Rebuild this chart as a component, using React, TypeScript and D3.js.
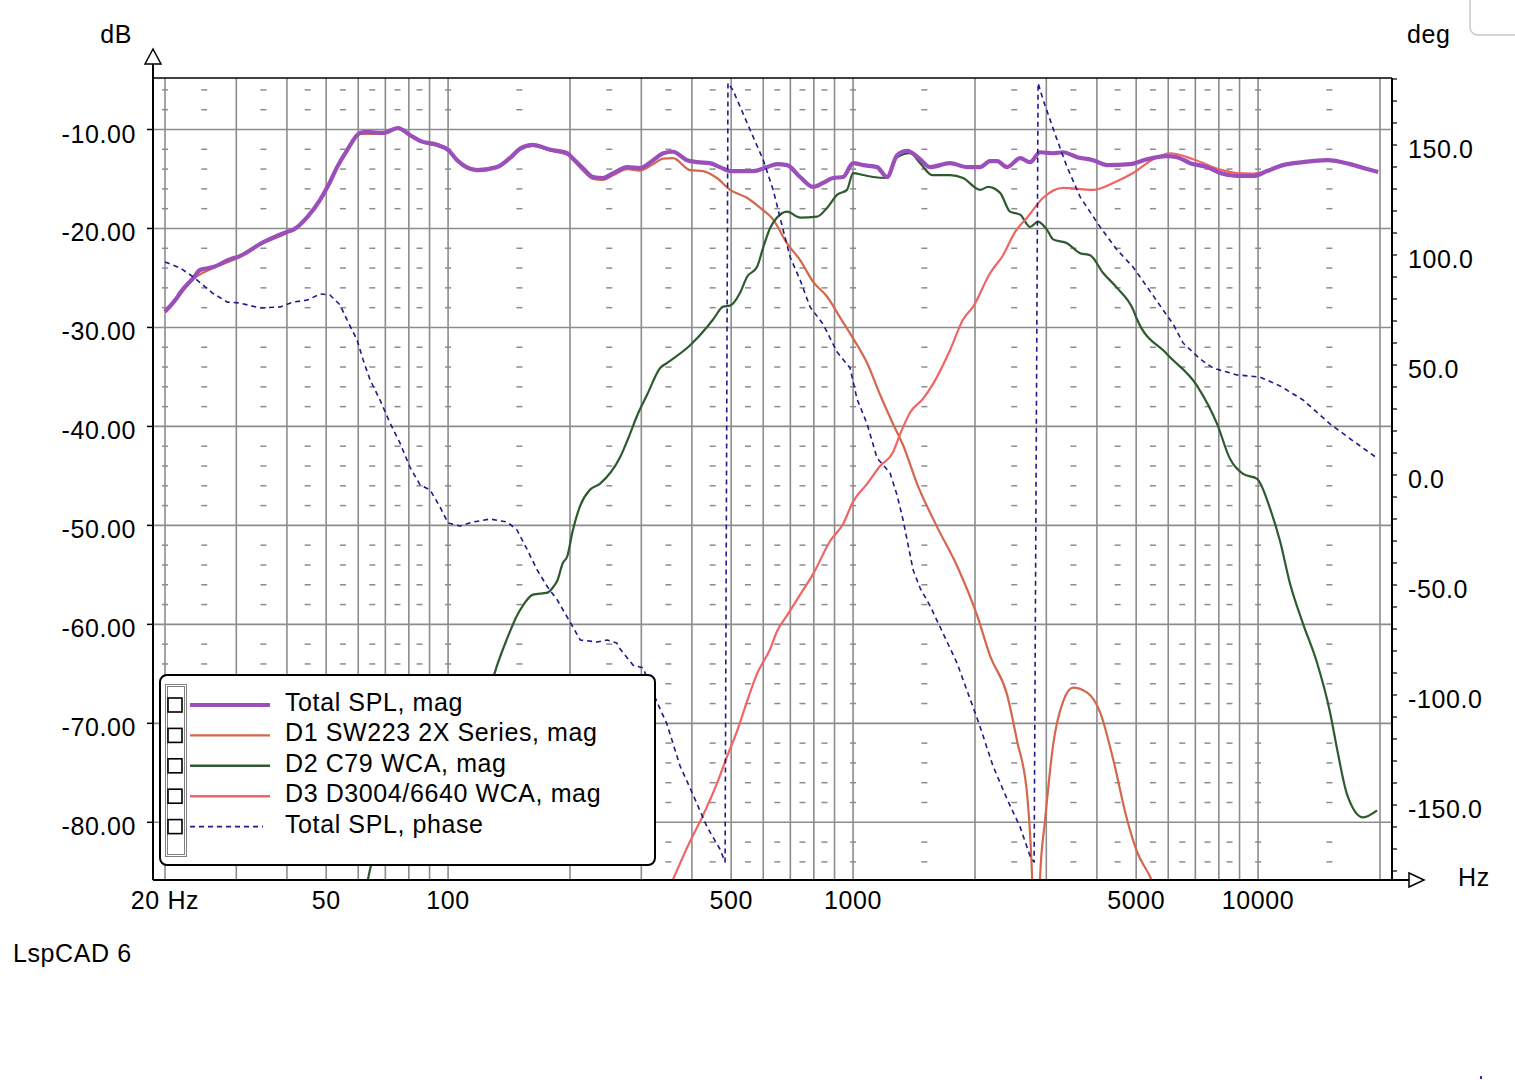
import React from 'react';
import * as d3 from 'd3';

// ---------- DATA ----------
const totalFreq = [20, 21.4, 21.8, 23.5, 24.4, 26.3, 29.4, 30.1, 34.9, 40, 41.4, 44.9, 48.3, 51.1, 53.2, 56.3, 60.6, 63.1, 69.1, 75.2, 80.5, 85.3, 93.9, 100, 105, 111, 118, 132, 142, 151, 162, 179, 197, 203, 215, 228, 241, 256, 277, 298, 321, 340, 359, 389, 412, 443, 469, 497, 566, 613, 649, 687, 740, 797, 843, 892, 945, 1000, 1059, 1146, 1213, 1284, 1359, 1464, 1549, 1735, 1912, 2059, 2180, 2267, 2400, 2585, 2735, 2896, 3118, 3300, 3574, 3914, 4240, 4831, 5321, 5962, 6310, 6793, 7482, 8057, 8874, 9720, 10525, 11527, 12915, 14806, 16874, 18586, 19785];
const totalDb = [-28.4, -27.0, -26.5, -25.0, -24.2, -23.9, -23.0, -22.9, -21.4, -20.35, -20.15, -18.85, -17.1, -15.3, -13.8, -12.1, -10.35, -10.25, -10.35, -9.85, -10.55, -11.15, -11.55, -12.05, -13.05, -13.8, -14.1, -13.8, -12.9, -11.9, -11.55, -12.05, -12.4, -12.9, -13.9, -14.8, -14.9, -14.4, -13.8, -13.9, -13.1, -12.4, -12.25, -13.1, -13.3, -13.4, -13.8, -14.2, -14.2, -13.8, -13.5, -13.6, -14.8, -15.8, -15.4, -14.9, -14.8, -13.4, -13.6, -13.8, -14.8, -12.6, -12.15, -13.0, -13.8, -13.4, -13.8, -13.8, -13.2, -13.2, -13.8, -12.9, -13.3, -12.3, -12.4, -12.3, -12.8, -13.1, -13.6, -13.5, -13.0, -12.7, -12.8, -13.4, -13.8, -14.4, -14.7, -14.7, -14.2, -13.6, -13.3, -13.1, -13.5, -14.0, -14.3];

const d1Freq = [20, 21.4, 23.5, 26.3, 30.1, 34.9, 40, 44.9, 48.3, 51.1, 53.2, 56.3, 60.6, 69.1, 75.2, 80.5, 85.3, 93.9, 100, 105, 111, 118, 132, 142, 151, 162, 179, 197, 203, 215, 228, 241, 256, 277, 298, 321, 340, 359, 396, 426, 461, 497, 547, 589, 635, 687, 740, 797, 863, 929, 1000, 1083, 1166, 1255, 1329, 1439, 1612, 1806, 2024, 2180, 2400, 2541, 2690, 2767, 2800, 2830, 2865, 2896, 2980, 3118, 3300, 3494, 3784, 4074, 4385, 4749, 5027, 5413, 5800];
const d1Db = [-28.5, -27.1, -25.1, -24.0, -23.0, -21.5, -20.45, -18.95, -17.2, -15.4, -13.9, -12.2, -10.45, -10.45, -9.95, -10.65, -11.25, -11.65, -12.15, -13.15, -13.9, -14.2, -13.9, -13.0, -12.0, -11.65, -12.15, -12.55, -13.05, -14.1, -15.0, -15.1, -14.6, -14.0, -14.15, -13.5, -12.95, -12.9, -14.1, -14.2, -14.9, -16.1, -16.9, -17.9, -19.1, -21.5, -23.2, -25.4, -26.9, -29.0, -31.1, -33.6, -36.8, -39.75, -41.9, -45.8, -50.15, -54.1, -59.1, -63.2, -67.1, -71.8, -77.2, -85.5, -92, -100, -92, -85.5, -79.75, -72.2, -67.8, -66.4, -66.9, -68.9, -73.6, -79.75, -83.0, -85.5, -88.5];

const d2Freq = [62.4, 64.9, 85.3, 107, 130.6, 132, 140, 148, 153, 162, 176, 182, 186, 192, 197, 203, 212, 224, 237, 266, 281, 293, 310, 334, 347, 396, 436, 451, 478, 497, 526, 547, 579, 600, 624, 649, 687, 740, 815, 863, 913, 966, 1000, 1059, 1121, 1213, 1284, 1383, 1464, 1567, 1735, 1869, 2059, 2154, 2307, 2441, 2585, 2735, 2863, 3013, 3118, 3376, 3636, 3848, 4144, 4486, 4914, 5027, 5962, 7070, 7921, 8530, 9183, 9943, 10706, 11332, 11995, 12915, 13989, 15058, 15671, 16590, 18168, 19672];
const d2Db = [-87.3, -84.0, -76.7, -70.7, -64.8, -64.2, -61.4, -59.1, -58.1, -57.0, -56.8, -56.2, -55.6, -53.8, -53.1, -50.6, -48.0, -46.4, -45.8, -43.1, -40.8, -38.9, -36.8, -34.1, -33.6, -31.8, -29.95, -29.2, -27.9, -27.8, -26.5, -24.9, -23.9, -21.9, -19.95, -18.9, -18.3, -18.9, -18.8, -17.9, -16.6, -16.1, -14.4, -14.6, -14.8, -14.9, -12.8, -12.4, -13.4, -14.6, -14.6, -14.9, -16.1, -15.8, -16.4, -18.3, -18.6, -19.85, -19.3, -20.15, -21.1, -21.5, -22.5, -22.7, -24.5, -26.0, -28.2, -29.2, -32.7, -35.9, -39.75, -43.3, -44.8, -45.3, -48.3, -51.6, -55.9, -59.95, -63.9, -68.9, -72.6, -77.2, -79.5, -78.8];

const d3Freq = [359, 396, 426, 461, 489, 517, 547, 579, 624, 649, 687, 740, 797, 877, 945, 1000, 1083, 1166, 1255, 1306, 1383, 1489, 1576, 1735, 1869, 1979, 2180, 2346, 2512, 2690, 2946, 3300, 3914, 4385, 4914, 5506, 6064, 6910, 8057, 8874, 9720, 10525, 11527, 12915, 14806, 16874, 19785];
const d3Db = [-85.8, -81.9, -79.3, -76.1, -73.3, -70.8, -67.8, -65.0, -62.5, -60.7, -59.1, -57.0, -54.9, -51.6, -49.85, -47.6, -45.8, -44.0, -42.6, -40.8, -38.6, -37.2, -35.7, -32.3, -29.2, -27.9, -24.5, -22.7, -20.35, -18.9, -16.9, -15.9, -16.1, -15.4, -14.4, -13.0, -12.4, -13.0, -14.05, -14.4, -14.45, -14.2, -13.6, -13.3, -13.1, -13.5, -14.3];

const phaseFreq = [20, 21.8, 23.5, 26.2, 28.5, 30.6, 34.3, 38.5, 41.4, 44.9, 48.3, 51.1, 54.1, 56.3, 59.6, 61.7, 64.2, 67.9, 71.9, 76.1, 80.5, 85.3, 90.3, 95.5, 100, 107, 115, 127, 140, 148, 157, 166, 176, 186, 200, 212, 233, 247, 261, 266, 286, 303, 328, 347, 374, 403, 436, 469, 483, 491, 505, 557, 600, 635, 672, 699, 740, 783, 843, 913, 983, 1023, 1083, 1146, 1234, 1284, 1329, 1407, 1464, 1549, 1640, 1806, 1945, 2059, 2216, 2400, 2585, 2735, 2799, 2863, 2946, 3190, 3376, 3636, 4074, 4486, 4914, 5321, 5828, 6169, 6529, 7192, 7743, 8874, 10114, 11332, 12915, 15058, 17164, 19672];
const phaseDeg = [96.8, 94.1, 90.0, 82.7, 78.6, 78.2, 75.9, 76.4, 78.6, 79.5, 82.3, 81.8, 77.3, 70.5, 61.4, 52.3, 43.2, 34.1, 23.6, 14.5, 3.6, -4.5, -6.8, -14.5, -21.8, -23.2, -21.4, -20.0, -21.4, -25.0, -34.1, -43.2, -50.9, -56.8, -66.8, -75.0, -75.9, -75.0, -76.4, -79.1, -86.4, -87.7, -103.2, -113.2, -132.3, -145.5, -160.0, -170.0, -175.9, 178.2, 175.0, 156.8, 143.2, 129.5, 111.4, 99.1, 88.6, 76.4, 68.6, 55.9, 48.6, 34.5, 23.2, 7.7, 0.9, -9.1, -20.5, -43.2, -51.4, -59.5, -69.1, -85.5, -101.8, -114.5, -132.3, -147.3, -160.0, -173.2, -175.9, 178.2, 170.5, 152.3, 140.0, 126.4, 112.7, 102.3, 94.5, 85.5, 75.0, 68.6, 60.0, 52.7, 48.6, 45.5, 44.5, 40.5, 34.1, 23.2, 15.5, 7.7];

// ticks & grid
const xTickValues = [20, 50, 100, 500, 1000, 5000, 10000];
const xTickLabels = ['20 Hz', '50', '100', '500', '1000', '5000', '10000'];
const gridFreqs = [20, 30, 40, 50, 60, 70, 80, 90, 100, 200, 300, 400, 500, 600, 700, 800, 900, 1000, 2000, 3000, 4000, 5000, 6000, 7000, 8000, 9000, 10000, 20000];
const minorFreqs = [20, 25, 35, 45, 55, 65, 75, 85, 100, 150, 250, 350, 450, 550, 650, 750, 850, 1000, 1500, 2500, 3500, 4500, 5500, 6500, 7500, 8500, 10000, 15000];
const dbTicks = [-10, -20, -30, -40, -50, -60, -70, -80];
const dbTickLabels = ['-10.00', '-20.00', '-30.00', '-40.00', '-50.00', '-60.00', '-70.00', '-80.00'];
const dbMinor = [-6, -8, -12, -14, -16, -18, -22, -24, -26, -28, -32, -34, -36, -38, -42, -44, -46, -48, -52, -54, -56, -58, -62, -64, -66, -68, -72, -74, -76, -78, -82, -84];
const degTicks = [150, 100, 50, 0, -50, -100, -150];
const degTickLabels = ['150.0', '100.0', '50.0', '0.0', '-50.0', '-100.0', '-150.0'];
const degMinor = [180, 170, 160, 150, 140, 130, 120, 110, 100, 90, 80, 70, 60, 50, 40, 30, 20, 10, 0, -10, -20, -30, -40, -50, -60, -70, -80, -90, -100, -110, -120, -130, -140, -150, -160, -170, -180];

const legendNames = ['Total SPL, mag', 'D1 SW223 2X Series, mag', 'D2 C79 WCA, mag', 'D3 D3004/6640 WCA, mag', 'Total SPL, phase'];
const legendColors = ['#9b4fba', '#d4674d', '#2f5a2f', '#f06464', '#1e1a8c'];

// ---------- LAYOUT ----------
const W = 1515;
const H = 1080;
const PL = 153, PR = 1392, PT = 78, PB = 880;
const FONT = '"Liberation Sans", Arial, sans-serif';
const GRID = '#8c8c8c';

const x = d3.scaleLog().domain([20, 20000]).range([165, 1380]);
const yDb = d3.scaleLinear().domain([-10, -80]).range([129.5, 822.3]);
const yDeg = d3.scaleLinear().domain([0, 150]).range([475, 145]);

function magPath(fs: number[], vs: number[]) {
  const pts: [number, number][] = fs.map((f, i) => [x(f), yDb(vs[i])]);
  return d3.line().curve(d3.curveMonotoneX)(pts) || '';
}
function phasePath(fs: number[], vs: number[]) {
  const pts: [number, number][] = fs.map((f, i) => [x(f), yDeg(vs[i])]);
  return d3.line()(pts) || '';
}

export default function App() {
  const txt = { fontFamily: FONT, fontSize: 25, letterSpacing: 0.6, fill: '#000' } as React.CSSProperties;
  const rowY = (i: number) => 705 + i * 30.4;
  return (
    <svg width={W} height={H} viewBox={`0 0 ${W} ${H}`} style={{ position: 'absolute', left: 0, top: 0, background: '#fff' }}>
      <rect x={0} y={0} width={W} height={H} fill="#fff" />
      <defs>
        <clipPath id="plotClip">
          <rect x={PL} y={PT} width={PR - PL} height={PB - PT} />
        </clipPath>
      </defs>

      {/* grid */}
      <g stroke={GRID} strokeWidth={1.6}>
        {gridFreqs.map((f) => (
          <line key={'v' + f} x1={x(f)} x2={x(f)} y1={PT} y2={PB} />
        ))}
        {dbTicks.map((v) => (
          <line key={'h' + v} x1={PL} x2={PR} y1={yDb(v)} y2={yDb(v)} />
        ))}
      </g>
      <g stroke={GRID} strokeWidth={1.5}>
        {dbMinor.map((v) =>
          minorFreqs.map((f) => (
            <line key={'m' + v + '_' + f} x1={x(f) - 3} x2={x(f) + 3} y1={yDb(v)} y2={yDb(v)} />
          ))
        )}
      </g>

      {/* curves */}
      <g clipPath="url(#plotClip)" fill="none" strokeLinejoin="round">
        <path d={magPath(d1Freq, d1Db)} stroke={legendColors[1]} strokeWidth={2.2} />
        <path d={magPath(d2Freq, d2Db)} stroke={legendColors[2]} strokeWidth={2.2} />
        <path d={magPath(d3Freq, d3Db)} stroke={legendColors[3]} strokeWidth={2.2} />
        <path d={magPath(totalFreq, totalDb)} stroke={legendColors[0]} strokeWidth={4.2} />
        <path d={phasePath(phaseFreq, phaseDeg)} stroke={legendColors[4]} strokeWidth={1.6} strokeDasharray="5 4" />
      </g>

      {/* frame & axes */}
      <g stroke="#000" fill="none">
        <line x1={PL} x2={PR} y1={PT} y2={PT} strokeWidth={1.6} />
        <line x1={PR} x2={PR} y1={PT} y2={PB} strokeWidth={2} />
        <line x1={PL} x2={PL} y1={PB} y2={60} strokeWidth={2} />
        <line x1={PL} x2={1410} y1={PB} y2={PB} strokeWidth={2} />
        <path d={`M${PL},49 L${PL - 8},64 L${PL + 8},64 Z`} strokeWidth={1.5} fill="#fff" />
        <path d={`M1424,${PB} L1409,${PB - 7} L1409,${PB + 7} Z`} strokeWidth={1.5} fill="#fff" />
        {dbTicks.map((v) => (
          <line key={'lt' + v} x1={PL - 6} x2={PL} y1={yDb(v)} y2={yDb(v)} strokeWidth={1.5} />
        ))}
        {degMinor.map((v) => (
          <line key={'rt' + v} x1={PR} x2={PR + 5} y1={yDeg(v)} y2={yDeg(v)} strokeWidth={1.2} />
        ))}
      </g>

      {/* tick labels */}
      {dbTicks.map((v, i) => (
        <text key={'dbl' + v} x={136} y={yDb(v) + 13} textAnchor="end" style={txt}>
          {dbTickLabels[i]}
        </text>
      ))}
      {degTicks.map((v, i) => (
        <text key={'dgl' + v} x={1408} y={yDeg(v) + 13} textAnchor="start" style={txt}>
          {degTickLabels[i]}
        </text>
      ))}
      {xTickValues.map((f, i) => (
        <text key={'xl' + f} x={x(f)} y={909} textAnchor="middle" style={txt}>
          {xTickLabels[i]}
        </text>
      ))}

      {/* axis titles */}
      <text x={132} y={43} textAnchor="end" style={txt}>dB</text>
      <text x={1407} y={43} textAnchor="start" style={txt}>deg</text>
      <text x={1458} y={886} textAnchor="start" style={txt}>Hz</text>
      <text x={13} y={962} textAnchor="start" style={txt}>LspCAD 6</text>

      {/* legend */}
      <g>
        <rect x={160} y={675} width={495} height={190} rx={7} ry={7} fill="#fff" stroke="#000" strokeWidth={2} />
        <rect x={165.5} y={684.5} width={21} height={172} fill="none" stroke="#000" strokeWidth={1} strokeDasharray="1 1" />
        <rect x={167.5} y={686.5} width={17} height={168} fill="none" stroke="#000" strokeWidth={1} strokeDasharray="1 1" />
        {legendNames.map((name, i) => (
          <g key={'lg' + i}>
            <rect x={168} y={rowY(i) - 7} width={14} height={14} fill="#fff" stroke="#000" strokeWidth={1.6} />
            <line
              x1={190}
              x2={i === 4 ? 263 : 270}
              y1={rowY(i)}
              y2={rowY(i)}
              stroke={legendColors[i]}
              strokeWidth={i === 0 ? 4.2 : i === 4 ? 1.6 : 2.4}
              strokeDasharray={i === 4 ? '5 4' : undefined}
            />
            <text x={285} y={rowY(i) + 6} style={txt}>
              {name}
            </text>
          </g>
        ))}
      </g>

      {/* window decorations */}
      <rect x={1470} y={-20} width={70} height={55} rx={8} ry={8} fill="#fff" stroke="#c8c8c8" strokeWidth={1.5} />
      <rect x={1480} y={1076} width={2} height={3} fill="#2233cc" />
    </svg>
  );
}
